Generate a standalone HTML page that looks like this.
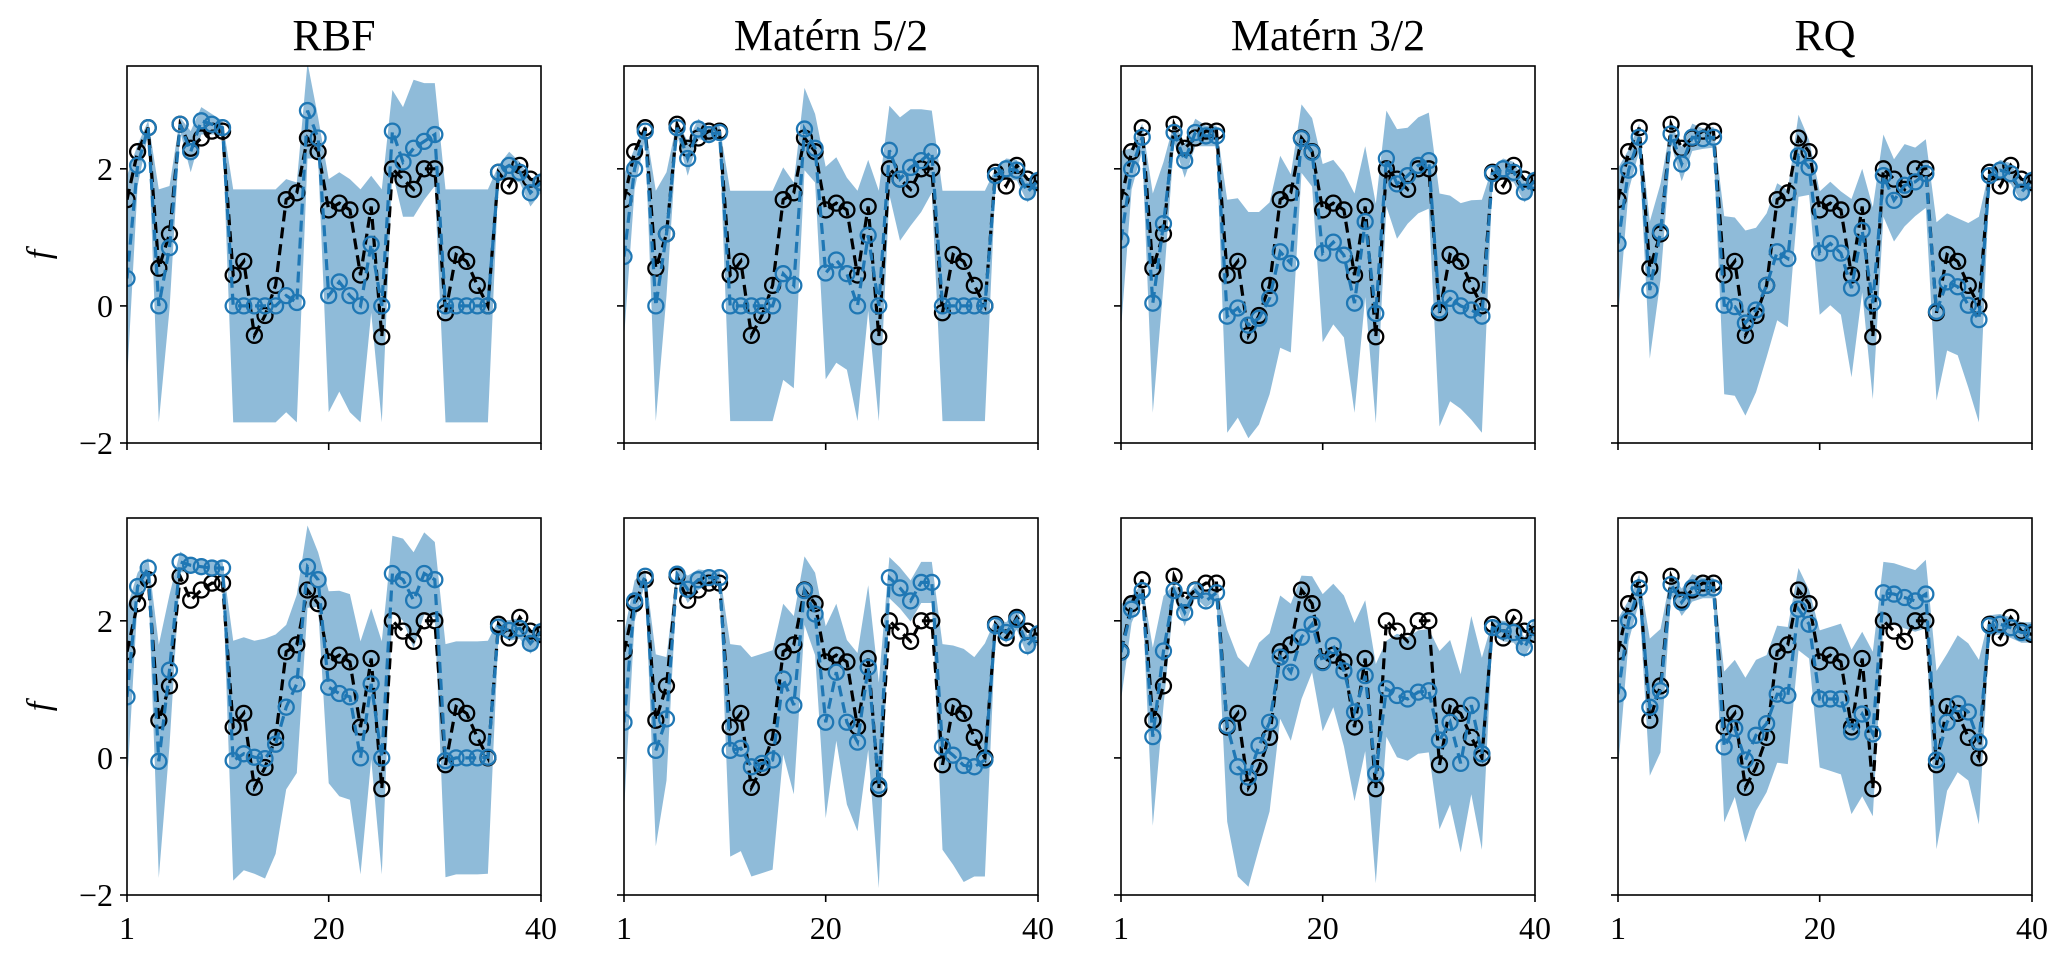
<!DOCTYPE html>
<html><head><meta charset="utf-8"><style>
html,body{margin:0;padding:0;background:#fff;}
svg{display:block;}
text{font-family:"Liberation Serif",serif;fill:#000;}
</style></head><body>
<svg id="fig" width="2067" height="958" viewBox="0 0 2067 958" xmlns="http://www.w3.org/2000/svg"></svg>
<script>
const titles = ["RBF","Matérn 5/2","Matérn 3/2","RQ"];
const xTicks = [1,20,40];
const yTicks = [-2,0,2];
const yTickLabels = ["\u22122","0","2"];
const trueF = [1.55,2.25,2.6,0.55,1.05,2.65,2.3,2.45,2.55,2.55,0.45,0.65,-0.43,-0.14,0.3,1.55,1.65,2.45,2.25,1.4,1.5,1.4,0.45,1.45,-0.45,2.0,1.85,1.7,2.0,2.0,-0.1,0.75,0.65,0.3,0.0,1.95,1.75,2.05,1.85,1.8];
const meanTopRBF = [0.4,2.05,2.6,0,0.85,2.65,2.25,2.7,2.65,2.6,0,0,0,0,0,0.15,0.05,2.85,2.45,0.15,0.35,0.15,0,0.9,0,2.55,2.1,2.3,2.4,2.5,0,0,0,0,0,1.95,2.05,1.95,1.65,1.8];
const stdTopRBF = [1.5,0.3,0.1,1.7,0.9,0.1,0.3,0.2,0.15,0.1,1.7,1.7,1.7,1.7,1.7,1.7,1.75,0.7,0.3,1.7,1.6,1.7,1.7,1.0,1.7,0.6,0.8,1.0,0.85,0.75,1.7,1.7,1.7,1.7,1.7,0.1,0.2,0.15,0.2,0.15];
const meanTopM52 = [0.72,2.0,2.55,0,1.05,2.6,2.15,2.58,2.5,2.53,0,0,0,0,0,0.47,0.3,2.58,2.3,0.48,0.67,0.47,0,1.03,0,2.27,1.85,2.02,2.12,2.25,0,0,0,0,0,1.9,2.0,1.98,1.66,1.83];
const stdTopM52 = [1.2,0.3,0.1,1.68,0.9,0.1,0.25,0.15,0.1,0.1,1.68,1.68,1.68,1.68,1.68,1.55,1.5,0.6,0.5,1.55,1.5,1.4,1.68,1.1,1.68,0.65,0.9,0.85,0.75,0.6,1.68,1.68,1.68,1.68,1.68,0.1,0.15,0.15,0.15,0.15];
const meanTopM32 = [0.96,2.0,2.46,0.04,1.2,2.53,2.12,2.53,2.48,2.48,-0.15,-0.03,-0.28,-0.18,0.11,0.79,0.62,2.44,2.24,0.77,0.93,0.74,0.04,1.23,-0.11,2.15,1.78,1.9,2.05,2.12,-0.06,0.11,0,-0.06,-0.15,1.93,2.0,1.95,1.66,1.83];
const stdTopM32 = [1.3,0.3,0.2,1.6,0.9,0.15,0.25,0.2,0.15,0.15,1.7,1.6,1.65,1.55,1.4,1.4,1.3,0.5,0.5,1.3,1.2,1.2,1.6,1.1,1.6,0.7,0.8,0.7,0.7,0.7,1.7,1.5,1.5,1.6,1.7,0.1,0.15,0.15,0.15,0.15];
const meanTopRQ = [0.91,1.98,2.46,0.23,1.08,2.51,2.07,2.46,2.44,2.46,0.01,-0.01,-0.25,-0.06,0.3,0.79,0.69,2.19,2.02,0.77,0.91,0.77,0.26,1.1,0.04,1.9,1.54,1.76,1.81,1.93,-0.08,0.35,0.28,0.01,-0.2,1.9,1.98,1.93,1.66,1.83];
const stdTopRQ = [1.1,0.3,0.2,1.0,0.7,0.15,0.25,0.2,0.15,0.15,1.3,1.3,1.35,1.2,1.05,1.0,1.0,0.6,0.4,0.9,0.9,0.9,1.3,0.9,1.4,0.6,0.6,0.6,0.5,0.5,1.3,1.0,1.0,1.2,1.5,0.1,0.15,0.15,0.15,0.15];
const meanBotRBF = [0.89,2.5,2.77,-0.05,1.28,2.86,2.81,2.79,2.77,2.77,-0.04,0.06,0.01,-0.01,0.2,0.74,1.08,2.79,2.6,1.03,0.94,0.89,0,1.08,0,2.69,2.6,2.3,2.69,2.6,-0.04,0,0,0,0.01,1.91,1.86,1.89,1.67,1.84];
const stdBotRBF = [1.3,0.2,0.15,1.7,1.1,0.15,0.1,0.1,0.1,0.1,1.75,1.7,1.7,1.75,1.6,1.2,1.3,0.6,0.4,1.4,1.5,1.5,1.7,1.1,1.7,0.55,0.6,0.7,0.6,0.55,1.7,1.7,1.7,1.7,1.7,0.1,0.15,0.15,0.15,0.15];
const meanBotM52 = [0.52,2.29,2.65,0.11,0.57,2.68,2.46,2.6,2.63,2.63,0.11,0.14,-0.13,-0.08,-0.03,1.15,0.77,2.44,2.1,0.52,1.25,0.52,0.23,1.32,-0.4,2.63,2.48,2.29,2.56,2.56,0.16,0.04,-0.11,-0.13,-0.03,1.93,1.83,2.02,1.64,1.81];
const stdBotM52 = [1.3,0.3,0.1,1.4,0.9,0.1,0.2,0.15,0.1,0.1,1.55,1.5,1.6,1.6,1.6,1.1,1.3,0.5,0.6,1.4,1.0,1.2,1.3,1.2,1.5,0.3,0.3,0.3,0.3,0.3,1.5,1.6,1.7,1.6,1.7,0.1,0.15,0.15,0.15,0.15];
const meanBotM32 = [1.54,2.17,2.44,0.31,1.56,2.44,2.12,2.44,2.29,2.41,0.47,-0.13,-0.28,0.18,0.52,1.47,1.25,1.76,1.95,1.39,1.64,1.27,0.67,1.2,-0.23,1.01,0.91,0.86,0.96,0.98,0.26,0.52,-0.08,0.77,0.06,1.9,1.85,1.83,1.61,1.9];
const stdBotM32 = [0.7,0.2,0.1,1.3,0.8,0.1,0.2,0.1,0.1,0.1,1.4,1.6,1.6,1.5,1.3,0.9,1.0,0.9,0.7,1.0,0.9,1.1,1.3,1.1,1.6,0.7,0.9,0.9,0.9,0.9,1.3,1.2,1.3,1.3,1.4,0.1,0.15,0.15,0.15,0.15];
const meanBotRQ = [0.93,2.0,2.48,0.74,0.98,2.53,2.27,2.48,2.48,2.48,0.16,0.43,-0.03,0.33,0.5,0.93,0.91,2.17,1.95,0.86,0.86,0.86,0.38,0.64,0.35,2.41,2.39,2.34,2.29,2.39,-0.03,0.52,0.79,0.67,0.23,1.93,1.95,1.9,1.83,1.83];
const stdBotRQ = [1.1,0.3,0.2,1.0,0.9,0.15,0.2,0.2,0.15,0.15,1.1,1.0,1.2,1.1,1.0,1.0,1.0,0.6,0.5,1.0,1.05,1.1,1.2,1.2,1.2,0.45,0.45,0.45,0.45,0.5,1.3,1.0,1.0,1.0,1.2,0.15,0.15,0.15,0.15,0.15];

const means = [[meanTopRBF,meanTopM52,meanTopM32,meanTopRQ],[meanBotRBF,meanBotM52,meanBotM32,meanBotRQ]];
const stds = [[stdTopRBF,stdTopM52,stdTopM32,stdTopRQ],[stdBotRBF,stdBotM52,stdBotM32,stdBotRQ]];

const NS = "http://www.w3.org/2000/svg";
const svg = document.getElementById("fig");
const panelLeft = [127,624,1121,1618];
const panelW = 414;
const rowTop = [66,518];
const panelH = 377;
const xMin=1,xMax=40,yMin=-2,yMax=3.5;
const BLUE="#1f77b4";

function mk(tag, attrs, parent){
  const e=document.createElementNS(NS,tag);
  for(const k in attrs) e.setAttribute(k,attrs[k]);
  (parent||svg).appendChild(e);
  return e;
}

for(let r=0;r<2;r++){
  for(let c=0;c<4;c++){
    const L=panelLeft[c], T=rowTop[r];
    const sx=v=>L+(v-xMin)/(xMax-xMin)*panelW;
    const sy=v=>T+(yMax-v)/(yMax-yMin)*panelH;
    const g=mk("g",{});
    
    
    const clipId="clip"+r+c;
    const cp=mk("clipPath",{id:clipId},g);
    mk("rect",{x:L,y:T,width:panelW,height:panelH},cp);
    const plot=mk("g",{"clip-path":"url(#"+clipId+")"},g);
    const m=means[r][c], s=stds[r][c];
    let up=[],lo=[];
    for(let i=0;i<m.length;i++){
      up.push(sx(i+1).toFixed(1)+","+sy(m[i]+s[i]).toFixed(1));
      lo.unshift(sx(i+1).toFixed(1)+","+sy(m[i]-s[i]).toFixed(1));
    }
    const band=mk("polygon",{points:up.concat(lo).join(" "),fill:BLUE,"fill-opacity":"0.5",stroke:"none"},plot);
    
    
    const tp=trueF.map((v,i)=>sx(i+1).toFixed(1)+","+sy(v).toFixed(1)).join(" ");
    const tl=mk("polyline",{points:tp,fill:"none",stroke:"#000","stroke-width":"3.2","stroke-dasharray":"11,6"},plot);
    
    
    trueF.forEach((v,i)=>{
      const ci=mk("circle",{cx:sx(i+1),cy:sy(v),r:7.5,fill:"none",stroke:"#000","stroke-width":"2.3"},plot);
      
      
    });
    const mp=m.map((v,i)=>sx(i+1).toFixed(1)+","+sy(v).toFixed(1)).join(" ");
    const ml=mk("polyline",{points:mp,fill:"none",stroke:BLUE,"stroke-width":"3.2","stroke-dasharray":"11,6"},plot);
    
    
    m.forEach((v,i)=>{
      const ci=mk("circle",{cx:sx(i+1),cy:sy(v),r:7.5,fill:"none",stroke:BLUE,"stroke-width":"2.3"},plot);
      
      
    });
    const fr=mk("rect",{x:L,y:T,width:panelW,height:panelH,fill:"none",stroke:"#000","stroke-width":"1.6"},g);
    
    
    yTicks.forEach((v,k)=>{
      const y=sy(v);
      const t=mk("line",{x1:L-7,x2:L,y1:y,y2:y,stroke:"#000","stroke-width":"1.6"},g);
      
      
      if(c===0){
        const tx=mk("text",{x:L-14,y:y+11,"text-anchor":"end","font-size":"32"},g);
        tx.textContent=yTickLabels[k];
        
        
      }
    });
    xTicks.forEach(v=>{
      const x=sx(v);
      const t=mk("line",{x1:x,x2:x,y1:T+panelH,y2:T+panelH+7,stroke:"#000","stroke-width":"1.6"},g);
      
      
      if(r===1){
        const tx=mk("text",{x:x,y:T+panelH+44,"text-anchor":"middle","font-size":"32"},g);
        tx.textContent=String(v);
        
        
      }
    });
    if(r===0){
      const tt=mk("text",{x:L+panelW/2,y:50,"text-anchor":"middle","font-size":"44"},g);
      tt.textContent=titles[c];
      
      
    }
    if(c===0){
      const yl=mk("text",{x:0,y:0,"text-anchor":"middle","font-size":"34","font-style":"italic",transform:"translate(50,"+(T+panelH/2)+") rotate(-90)"},g);
      yl.textContent="f";
      
      
    }
  }
}
</script>
</body></html>
